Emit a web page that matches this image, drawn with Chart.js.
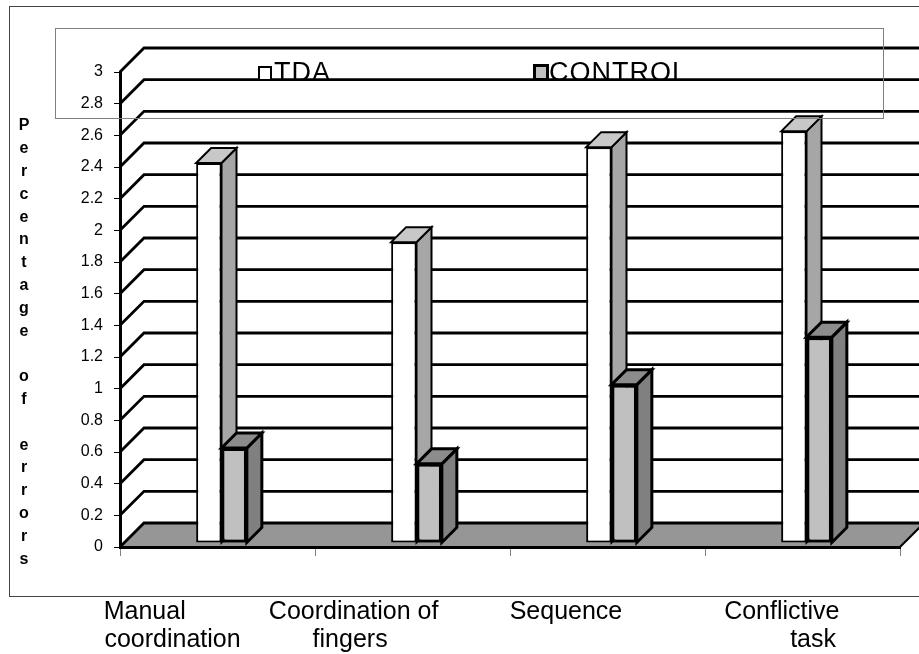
<!DOCTYPE html>
<html>
<head>
<meta charset="utf-8">
<script src="https://cdn.jsdelivr.net/npm/chart.js@4.4.1/dist/chart.umd.min.js"></script>
<style>
  html, body { margin: 0; padding: 0; background: #fff; }
  #wrap { width: 919px; height: 654px; }
</style>
</head>
<body>
<div id="wrap"><canvas id="chart" width="919" height="654"></canvas></div>
<script>
// Données du graphique
const categories = [['Manual', 'coordination'], ['Coordination of', 'fingers'], ['Sequence'], ['Conflictive', 'task']];
const seriesNames = ['TDA', 'CONTROL'];
const tdaValues = [2.4, 1.9, 2.5, 2.6];
const controlValues = [0.6, 0.5, 1.0, 1.3];
const yTitle = 'Percentage of errors';

const FONT = "'Liberation Sans', Arial, sans-serif";
const WALL = 24;   // profondeur des murs
const BAR_D = 15;  // profondeur des barres
const SHIFT = 4;   // barres un peu vers le fond

// petit décalage des lignes d'étiquettes (nombre d'espaces, négatif = à droite du texte)
const labelPad = [[-8, 0], [-4, -5], [1], [7, 16]];

function padLine(text, n) {
    const sp = ' '.repeat(Math.abs(n));
    return n < 0 ? text + sp : sp + text;
}

function face(ctx, pts, fill, lw) {
    ctx.beginPath();
    ctx.moveTo(pts[0][0], pts[0][1]);
    pts.slice(1).forEach(p => ctx.lineTo(p[0], p[1]));
    ctx.closePath();
    ctx.fillStyle = fill;
    ctx.fill();
    ctx.lineWidth = lw;
    ctx.strokeStyle = '#000';
    ctx.lineJoin = 'miter';
    ctx.stroke();
}

function drawFaces(ctx, bar, side, top, lw) {
    const { x, y, base, width } = bar.getProps(['x', 'y', 'base', 'width'], true);
    const l = x - width / 2, r = x + width / 2;
    face(ctx, [[r, y], [r + BAR_D, y - BAR_D], [r + BAR_D, base - BAR_D], [r, base]], side, lw);
    face(ctx, [[l, y], [l + BAR_D, y - BAR_D], [r + BAR_D, y - BAR_D], [r, y]], top, lw);
}

const threeD = {
    id: 'threeD',
    beforeDraw(chart) {
        const { ctx, chartArea: a, scales: { y } } = chart;
        ctx.save();
        // cadre extérieur
        ctx.strokeStyle = '#444';
        ctx.lineWidth = 1;
        ctx.strokeRect(9.5, 6.5, 1000, 590);

        // sol
        const y0 = y.getPixelForValue(0);
        ctx.fillStyle = '#969696';
        ctx.beginPath();
        ctx.moveTo(a.left, y0);
        ctx.lineTo(a.right, y0);
        ctx.lineTo(a.right + WALL, y0 - WALL);
        ctx.lineTo(a.left + WALL, y0 - WALL);
        ctx.closePath();
        ctx.fill();

        // lignes du mur du fond et du mur de gauche
        ctx.strokeStyle = '#000';
        ctx.lineWidth = 2.8;
        y.ticks.forEach(t => {
            const py = y.getPixelForValue(t.value);
            ctx.beginPath();
            ctx.moveTo(a.left, py);
            ctx.lineTo(a.left + WALL, py - WALL);
            ctx.lineTo(chart.width + 5, py - WALL);
            ctx.stroke();
        });

        // bord droit du sol
        ctx.lineWidth = 2;
        ctx.beginPath();
        ctx.moveTo(a.right, y0);
        ctx.lineTo(a.right + WALL, y0 - WALL);
        ctx.stroke();
        ctx.restore();
    },
    beforeDatasetsDraw(chart) {
        chart.ctx.save();
        chart.ctx.translate(SHIFT, -SHIFT);
    },
    afterDatasetsDraw(chart) {
        const ctx = chart.ctx;
        const tda = chart.getDatasetMeta(0).data;
        const ctl = chart.getDatasetMeta(1).data;
        tda.forEach((bar, i) => {
            drawFaces(ctx, bar, '#a6a6a6', '#c8c8c8', 2);
            ctl[i].draw(ctx);
            drawFaces(ctx, ctl[i], '#808080', '#8c8c8c', 3);
        });
        ctx.restore();
    },
    afterDraw(chart) {
        const ctx = chart.ctx;
        ctx.save();
        // titre vertical, lettre par lettre
        ctx.fillStyle = '#000';
        ctx.font = 'bold 16px ' + FONT;
        ctx.textAlign = 'center';
        ctx.textBaseline = 'middle';
        yTitle.split('').forEach((ch, i) => {
            if (ch !== ' ') ctx.fillText(ch, 24, 126 + i * 22.8);
        });

        // légende
        ctx.strokeStyle = '#808080';
        ctx.lineWidth = 1;
        ctx.strokeRect(55.5, 28.5, 828, 90);
        const ds = chart.data.datasets;
        ctx.font = '27px ' + FONT;
        ctx.letterSpacing = '1px';
        ctx.textAlign = 'left';
        ctx.textBaseline = 'alphabetic';

        ctx.fillStyle = ds[0].backgroundColor;
        ctx.fillRect(259, 67, 12, 13);
        ctx.strokeStyle = '#000';
        ctx.lineWidth = 2;
        ctx.strokeRect(259, 67, 12, 13);
        ctx.fillStyle = '#000';
        ctx.fillText(ds[0].label, 274, 81);

        ctx.fillStyle = ds[1].backgroundColor;
        ctx.fillRect(534.5, 65.5, 13, 14);
        ctx.lineWidth = 3;
        ctx.strokeRect(534.5, 65.5, 13, 14);
        ctx.fillStyle = '#000';
        ctx.fillText(ds[1].label, 549, 81);
        ctx.restore();
    }
};

new Chart(document.getElementById('chart'), {
    type: 'bar',
    data: {
        labels: categories,
        datasets: [
            {
                label: seriesNames[0],
                data: tdaValues,
                backgroundColor: '#ffffff',
                borderColor: '#000',
                borderWidth: 2,
                borderSkipped: false
            },
            {
                label: seriesNames[1],
                data: controlValues,
                backgroundColor: '#c0c0c0',
                borderColor: '#000',
                borderWidth: 3,
                borderSkipped: false
            }
        ]
    },
    options: {
        responsive: false,
        animation: false,
        events: [],
        devicePixelRatio: 1,
        layout: { padding: { top: 72, right: 19, left: 0, bottom: 0 } },
        datasets: { bar: { categoryPercentage: 0.26, barPercentage: 1, clip: false } },
        plugins: {
            legend: { display: false },
            tooltip: { enabled: false }
        },
        scales: {
            x: {
                grid: { offset: true, drawOnChartArea: false, tickLength: 9, color: '#808080' },
                border: { color: '#000', width: 3 },
                ticks: {
                    color: '#000',
                    font: { family: FONT, size: 25, lineHeight: 1.12 },
                    padding: 42,
                    labelOffset: -45,
                    maxRotation: 0,
                    autoSkip: false,
                    callback: function(value, index) {
                        return categories[index].map((line, j) => padLine(line, labelPad[index][j] || 0));
                    }
                },
                afterFit: s => { s.height = 107; s.paddingLeft = 0; s.paddingRight = 0; }
            },
            y: {
                min: 0,
                max: 3,
                grid: { drawOnChartArea: false, tickLength: 6, color: '#000' },
                border: { color: '#000', width: 3 },
                ticks: {
                    stepSize: 0.2,
                    color: '#000',
                    padding: 11,
                    font: { family: FONT, size: 16 },
                    callback: v => String(Math.round(v * 10) / 10)
                },
                afterFit: s => { s.width = 120; }
            }
        }
    },
    plugins: [threeD]
});
</script>
</body>
</html>
